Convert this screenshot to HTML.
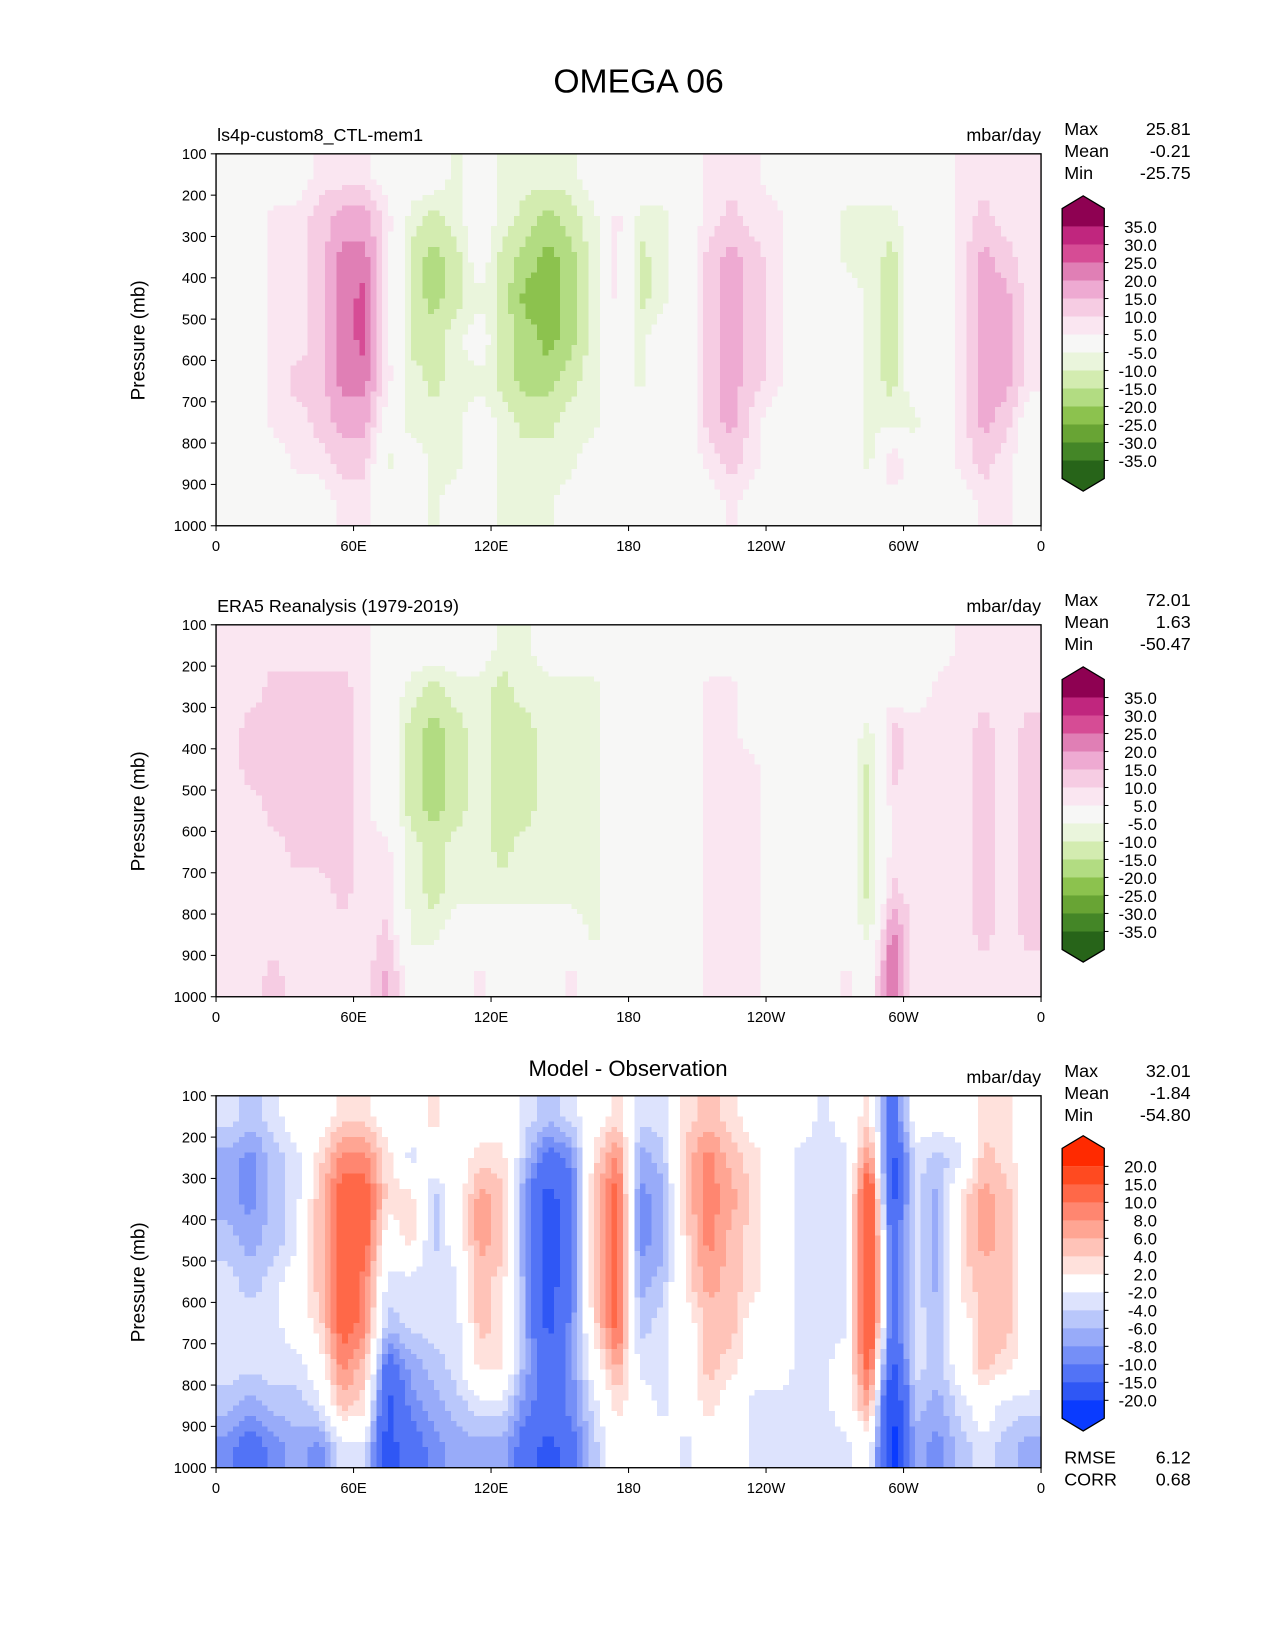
<!DOCTYPE html>
<html><head><meta charset="utf-8"><style>
html,body{margin:0;padding:0;background:#fff;}
svg{display:block;font-family:"Liberation Sans","DejaVu Sans",sans-serif;}
</style></head><body>
<svg id="fig" width="1275" height="1650" viewBox="0 0 1210 1566" xmlns="http://www.w3.org/2000/svg">
<rect x="0" y="0" width="1210" height="1566" fill="#fff"/>
<text x="606" y="88" font-size="32" text-anchor="middle" fill="#000">OMEGA 06</text>
</svg>
<script>
// longitude column centres (deg) and pressure row centres (mb)
const lonCenters=[5,15,25,35,45,55,65,75,85,95,105,115,125,135,145,155,165,175,185,195,205,215,225,235,245,255,265,275,285,295,305,315,325,335,345,355];
const presCenters=[150,250,350,450,550,650,750,850,950];
const yTicks=[100,200,300,400,500,600,700,800,900,1000];
const xTickVals=[0,60,120,180,240,300,360];
const xTickLabels=['0','60E','120E','180','120W','60W','0'];
// panel 1 model, columns by longitude (top->bottom pressure)
const modelCols=[
[0,0,0,0,0,0,0,0,0],[0,0,0,0,0,0,0,0,0],[0,7,7,7,7,7,7,0,0],[0,7,7,7,7,12,7,7,0],
[7,12,12,12,12,12,12,7,0],[7,17,22,22,22,22,17,12,7],[7,17,22,27,27,22,17,12,7],[0,7,7,7,7,7,0,-7,0],
[0,-7,-12,-12,-12,-7,-7,0,0],[0,-12,-17,-17,-12,-12,-7,-7,-7],[-7,-7,-12,-12,-7,-7,-7,-7,0],[0,0,0,-7,0,-7,0,0,0],
[-7,-7,-12,-12,-12,-12,-7,-7,-7],[-7,-12,-17,-22,-17,-17,-12,-7,-7],[-7,-17,-22,-22,-22,-17,-12,-7,-7],[-7,-12,-17,-17,-17,-12,-7,-7,0],
[0,-7,-7,-7,-7,-7,-7,0,0],[0,7,7,7,0,0,0,0,0],[0,-7,-12,-12,-7,-7,0,0,0],[0,-7,-7,-7,0,0,0,0,0],
[0,0,0,0,0,0,0,0,0],[7,7,12,12,12,12,12,7,0],[7,12,17,17,17,17,17,12,7],[7,7,12,12,12,12,7,7,0],
[0,7,7,7,7,7,0,0,0],[0,0,0,0,0,0,0,0,0],[0,0,0,0,0,0,0,0,0],[0,-7,-7,0,0,0,0,0,0],
[0,-7,-7,-7,-7,-7,-7,-7,0],[0,-7,-12,-12,-12,-12,-7,12,0],[0,0,0,0,0,0,-7,0,0],[0,0,0,0,0,0,0,0,0],
[7,7,7,7,7,7,7,7,0],[7,12,17,17,17,17,17,12,7],[7,7,12,17,17,17,12,7,7],[7,7,7,7,7,7,0,0,0]];
// panel 2 ERA5
const obsCols=[
[7,7,7,7,7,7,7,7,7],[7,7,12,12,7,7,7,7,7],[7,12,12,12,12,7,7,7,12],[7,12,12,12,12,12,7,7,7],
[7,12,12,12,12,12,7,7,7],[7,12,12,12,12,12,12,7,7],[7,7,7,7,7,7,7,7,7],[0,0,0,0,0,7,7,12,17],
[0,-7,-12,-12,-12,-7,-7,-7,0],[0,-12,-17,-17,-17,-12,-12,-7,0],[0,-7,-12,-12,-12,-7,-7,0,0],[0,-7,-7,-7,-7,-7,-7,0,7],
[-7,-12,-12,-12,-12,-12,-7,0,0],[-7,-7,-12,-12,-12,-7,-7,0,0],[0,-7,-7,-7,-7,-7,-7,0,0],[0,-7,-7,-7,-7,-7,-7,0,7],
[0,-7,-7,-7,-7,-7,-7,-7,0],[0,0,0,0,0,0,0,0,0],[0,0,0,0,0,0,0,0,0],[0,0,0,0,0,0,0,0,0],
[0,0,0,0,0,0,0,0,0],[0,7,7,7,7,7,7,7,7],[0,7,7,7,7,7,7,7,7],[0,0,0,7,7,7,7,7,7],
[0,0,0,0,0,0,0,0,0],[0,0,0,0,0,0,0,0,0],[0,0,0,0,0,0,0,0,0],[0,0,0,0,0,0,0,0,7],
[0,0,-7,-12,-12,-12,-12,-7,0],[0,0,12,12,7,7,12,22,27],[0,0,7,7,7,7,7,7,7],[0,7,7,7,7,7,7,7,7],
[7,7,7,7,7,7,7,7,7],[7,7,12,12,12,12,12,12,7],[7,7,7,7,7,7,7,7,7],[7,7,12,12,12,12,12,12,7]];
// panel 3 difference
const diffCols=[
[-3,-7,-7,-5,-3,-3,-3,-5,-9],[-5,-9,-9,-7,-5,-3,-3,-7,-12],[-3,-5,-5,-5,-3,-3,-3,-5,-9],[0,-3,-3,-3,0,0,-3,-5,-7],
[0,3,5,5,5,3,0,-3,-9],[3,9,12,12,12,12,9,5,-3],[3,9,12,12,9,9,5,3,-3],[0,3,3,0,-3,-5,-12,-17,-17],
[0,-3,3,3,-3,-3,-7,-9,-12],[3,0,-5,-5,-3,-3,-5,-7,-9],[0,0,0,0,-3,-3,-3,-5,-7],[0,3,7,7,5,5,3,-3,-7],
[0,3,5,5,3,3,3,-3,-7],[-3,-5,-9,-9,-7,-7,-7,-9,-12],[-5,-12,-17,-17,-17,-17,-12,-12,-17],[-3,-9,-12,-12,-12,-9,-9,-9,-12],
[0,3,5,5,5,3,0,-3,-5],[3,9,12,12,12,12,7,3,0],[-3,-7,-9,-9,-7,-5,-3,0,0],[-3,-5,-7,-7,-5,-3,-3,-3,0],
[3,5,5,3,3,0,0,0,-3],[5,9,9,9,7,5,5,3,0],[3,5,7,5,5,5,3,0,0],[0,3,3,3,3,0,0,-3,-3],
[0,0,0,0,0,0,0,-3,-3],[0,-3,-3,-3,-3,-3,-3,-3,-3],[-3,-3,-3,-3,-3,-3,-3,-3,-3],[0,-3,-3,-3,-3,-3,0,0,-3],
[3,9,17,17,17,17,12,7,0],[-12,-17,-17,-12,-12,-12,-17,-22,-22],[0,-3,-3,-3,-3,-3,-3,-5,-7],[0,-5,-7,-7,-7,-5,-5,-7,-9],
[0,-3,3,3,3,0,0,-3,-5],[3,5,7,7,5,5,5,0,-3],[3,3,5,5,5,5,3,-3,-5],[0,0,0,0,0,0,0,-3,-7]];
const pyBounds=[-35,-30,-25,-20,-15,-10,-5,5,10,15,20,25,30,35];
const pyLabels=['35.0','30.0','25.0','20.0','15.0','10.0','5.0','-5.0','-10.0','-15.0','-20.0','-25.0','-30.0','-35.0'];
const bwBounds=[-20,-15,-10,-8,-6,-4,-2,2,4,6,8,10,15,20];
const bwLabels=['20.0','15.0','10.0','8.0','6.0','4.0','2.0','-2.0','-4.0','-6.0','-8.0','-10.0','-15.0','-20.0'];
const statsModel=['25.81','-0.21','-25.75'];
const statsObs=['72.01','1.63','-50.47'];
const statsDiff=['32.01','-1.84','-54.80'];
const pyColors=['#276419','#448627','#68a434','#8cc24e','#b2dc82','#d3ecb0','#eaf5dc','#f7f7f6','#fae6f1','#f6cce3','#eeaad2','#e07fb5','#d64c95','#c0267e','#8e0152'];
const bwColors=['#0a3bff','#2f57f5','#5273f6','#758ff7','#98abf9','#b9c7fb','#dde3fd','#ffffff','#ffe1dc','#ffc3b8','#ffa593','#ff8670','#ff6848','#ff4a20','#ff2a00'];

const NS='http://www.w3.org/2000/svg';
const svg=document.getElementById('fig');
const X0=205,X1=988,PH=353;
function xScale(lon){return X0+lon*(X1-X0)/360;}
function yScale(p,top){return top+(p-100)*PH/900;}
function mk(tag,attrs,parent){const e=document.createElementNS(NS,tag);for(const k in attrs)e.setAttribute(k,attrs[k]);(parent||svg).appendChild(e);return e;}
function txt(s,attrs,parent){const e=mk('text',attrs,parent);e.textContent=s;return e;}
function cls(v,b){let i=0;while(i<b.length&&v>=b[i])i++;return i;}
function sample(cols,lon,p){
  let fx=(lon-5)/10,fy=(p-150)/100;
  fx=Math.max(0,Math.min(35,fx));fy=Math.max(0,Math.min(8,fy));
  const i=Math.min(34,Math.floor(fx)),j=Math.min(7,Math.floor(fy));const tx=fx-i,ty=fy-j;
  const a=cols[i][j],b=cols[i+1][j],c=cols[i][j+1],d=cols[i+1][j+1];
  return a*(1-tx)*(1-ty)+b*tx*(1-ty)+c*(1-tx)*ty+d*tx*ty;
}
function panel(top,cols,bounds,colors,title,titleCentered,stats,cbTop,labels,name){
  const g=mk('g',{});
  
  
  const fg=mk('g',{'shape-rendering':'crispEdges'},g);
  
  
  const dl=2.5,dp=12.5;
  for(let p=100;p<1000;p+=dp){
    let runStart=0,runCls=-1;
    for(let lon=0;lon<=360;lon+=dl){
      const c=lon<360?cls(sample(cols,lon+dl/2,p+dp/2),bounds):-2;
      if(c!==runCls){
        if(runCls>=0){
          const r=mk('rect',{x:xScale(runStart),y:yScale(p,top),width:xScale(lon)-xScale(runStart)+0.4,height:PH*dp/900+0.4,fill:colors[runCls]},fg);
          
          
        }
        runStart=lon;runCls=c;
      }
    }
  }
  const fr=mk('rect',{x:X0,y:top,width:X1-X0,height:PH,fill:'none',stroke:'#000','stroke-width':1.3},g);
  
  
  yTicks.forEach(p=>{const y=yScale(p,top);mk('line',{x1:X0-5,x2:X0,y1:y,y2:y,stroke:'#000'},g);
    const t=txt(String(p),{x:X0-9,y:y+5,'font-size':14,'text-anchor':'end'},g);
    
    });
  xTickVals.forEach((l,k)=>{const x=xScale(l);mk('line',{x1:x,x2:x,y1:top+PH,y2:top+PH+5,stroke:'#000'},g);
    const t=txt(xTickLabels[k],{x:x,y:top+PH+24,'font-size':14,'text-anchor':'middle'},g);
    
    });
  const yl=txt('Pressure (mb)',{x:0,y:0,'font-size':18,'text-anchor':'middle',transform:`translate(137,${top+177}) rotate(-90)`},g);
  
  
  const tt=titleCentered?txt(title,{x:596,y:top-19,'font-size':21,'text-anchor':'middle'},g):txt(title,{x:206,y:top-12,'font-size':17},g);
  
  
  const un=txt('mbar/day',{x:988,y:top-12,'font-size':17,'text-anchor':'end'},g);
  
  
  ['Max','Mean','Min'].forEach((s,k)=>{
    const a=txt(s,{x:1010,y:top-18+k*21,'font-size':17},g);
    
    
    const b=txt(stats[k],{x:1130,y:top-18+k*21,'font-size':17,'text-anchor':'end'},g);
    
    });
  const cb=mk('g',{},g);
  
  
  const L=1008,R=1048,M=(L+R)/2,step=17.08;
  const b0=cbTop;
  const bEnd=b0+step*13;
  mk('polygon',{points:`${L},${b0-step} ${M},${b0-step-12} ${R},${b0-step} ${R},${b0} ${L},${b0}`,fill:colors[14]},cb);
  for(let k=0;k<13;k++){
    const r=mk('rect',{x:L,y:b0+k*step,width:R-L,height:step+0.3,fill:colors[13-k]},cb);
    
    
  }
  mk('polygon',{points:`${L},${bEnd} ${R},${bEnd} ${R},${bEnd+step} ${M},${bEnd+step+12} ${L},${bEnd+step}`,fill:colors[0]},cb);
  mk('polygon',{points:`${L},${b0-step} ${M},${b0-step-12} ${R},${b0-step} ${R},${bEnd+step} ${M},${bEnd+step+12} ${L},${bEnd+step}`,fill:'none',stroke:'#000','stroke-width':1.2},cb);
  labels.forEach((s,k)=>{const y=b0+k*step;mk('line',{x1:R,x2:R+4,y1:y,y2:y,stroke:'#000'},cb);
    const t=txt(s,{x:1098,y:y+6,'font-size':16,'text-anchor':'end'},cb);
    
    });
}
panel(146,modelCols,pyBounds,pyColors,'ls4p-custom8_CTL-mem1',false,statsModel,215,pyLabels,'model-panel');
panel(593,obsCols,pyBounds,pyColors,'ERA5 Reanalysis (1979-2019)',false,statsObs,662,pyLabels,'era5-panel');
panel(1040,diffCols,bwBounds,bwColors,'Model - Observation',true,statsDiff,1107,bwLabels,'difference-panel');
[['RMSE','6.12',1389],['CORR','0.68',1410]].forEach(r=>{
  const a=txt(r[0],{x:1010,y:r[2],'font-size':17});
  
  
  const b=txt(r[1],{x:1130,y:r[2],'font-size':17,'text-anchor':'end'});
  
  
});
</script>
</body></html>
